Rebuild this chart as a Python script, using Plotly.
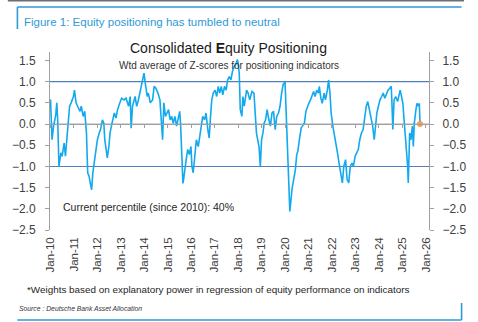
import plotly.graph_objects as go

dates = [
    "2010-01-01", "2010-01-25", "2010-02-18", "2010-03-24", "2010-04-09", "2010-04-24", "2010-05-12",
    "2010-06-12", "2010-07-01", "2010-08-01", "2010-08-21", "2010-10-01", "2010-10-25", "2010-11-18",
    "2010-12-24", "2011-01-09", "2011-02-03", "2011-02-27", "2011-04-06", "2011-04-25", "2011-05-25",
    "2011-06-18", "2011-07-15", "2011-08-03", "2011-08-24", "2011-09-22", "2011-10-03", "2011-10-22",
    "2011-11-27", "2012-01-01", "2012-02-01", "2012-02-19", "2012-03-19", "2012-04-10", "2012-04-25",
    "2012-05-19", "2012-06-03", "2012-06-28", "2012-07-16", "2012-08-16", "2012-09-21", "2012-10-16",
    "2012-11-10", "2012-12-13", "2013-01-13", "2013-02-18", "2013-03-22", "2013-05-01", "2013-05-25",
    "2013-06-10", "2013-07-01", "2013-08-10", "2013-09-04", "2013-09-28", "2013-10-22", "2013-11-18",
    "2013-12-12", "2013-12-27", "2014-01-15", "2014-02-15", "2014-03-04", "2014-04-04", "2014-05-10",
    "2014-06-03", "2014-06-28", "2014-08-01", "2014-09-01", "2014-09-22", "2014-10-12", "2014-11-01",
    "2014-11-25", "2014-12-20", "2015-01-13", "2015-02-08", "2015-03-03", "2015-03-27", "2015-04-22",
    "2015-05-18", "2015-06-10", "2015-07-06", "2015-07-21", "2015-08-16", "2015-08-25", "2015-09-04",
    "2015-09-24", "2015-10-15", "2015-11-07", "2015-12-03", "2015-12-28", "2016-01-12", "2016-02-01",
    "2016-02-26", "2016-03-21", "2016-04-20", "2016-05-25", "2016-06-28", "2016-07-28", "2016-08-18",
    "2016-09-16", "2016-10-07", "2016-10-28", "2016-11-16", "2016-12-10", "2017-01-06", "2017-02-01",
    "2017-02-25", "2017-03-20", "2017-04-13", "2017-05-07", "2017-06-03", "2017-06-27", "2017-07-21",
    "2017-08-16", "2017-09-10", "2017-10-04", "2017-11-01", "2017-11-25", "2017-12-18", "2017-12-28",
    "2018-01-18", "2018-02-03", "2018-02-28", "2018-03-16", "2018-04-06", "2018-05-12", "2018-06-04",
    "2018-07-01", "2018-08-04", "2018-09-04", "2018-09-25", "2018-10-13", "2018-11-01", "2018-11-22",
    "2018-12-12", "2019-01-01", "2019-01-22", "2019-02-10", "2019-03-04", "2019-03-28", "2019-04-24",
    "2019-05-18", "2019-06-12", "2019-07-06", "2019-08-01", "2019-08-25", "2019-09-21", "2019-10-15",
    "2019-11-09", "2019-12-03", "2020-01-01", "2020-01-20", "2020-02-10", "2020-03-01", "2020-03-16",
    "2020-04-21", "2020-05-21", "2020-06-10", "2020-07-01", "2020-07-19", "2020-08-15", "2020-09-09",
    "2020-09-28", "2020-10-28", "2020-11-21", "2020-12-16", "2021-01-06", "2021-02-01", "2021-02-25",
    "2021-03-21", "2021-04-13", "2021-05-08", "2021-06-03", "2021-06-18", "2021-07-12", "2021-08-02",
    "2021-09-01", "2021-09-21", "2021-10-21", "2021-11-10", "2021-12-01", "2021-12-19", "2022-01-15",
    "2022-02-07", "2022-03-03", "2022-03-28", "2022-04-21", "2022-05-15", "2022-06-12", "2022-07-04",
    "2022-08-01", "2022-08-25", "2022-09-19", "2022-10-13", "2022-11-08", "2022-12-01", "2022-12-27",
    "2023-01-21", "2023-02-15", "2023-03-10", "2023-04-05", "2023-05-01", "2023-05-25", "2023-06-19",
    "2023-07-13", "2023-08-07", "2023-09-02", "2023-09-27", "2023-10-21", "2023-11-05", "2023-12-01",
    "2023-12-25", "2024-01-19", "2024-02-15", "2024-03-09", "2024-04-03", "2024-04-28", "2024-05-22",
    "2024-06-16", "2024-07-12", "2024-07-21", "2024-08-06", "2024-08-25", "2024-09-19", "2024-10-19",
    "2024-11-09", "2024-11-28", "2024-12-19", "2025-01-09", "2025-01-28", "2025-02-16", "2025-03-07",
    "2025-03-25", "2025-04-03", "2025-04-10", "2025-04-25", "2025-05-15", "2025-06-06", "2025-06-21",
    "2025-07-06", "2025-08-01", "2025-08-16", "2025-09-06", "2025-09-22", "2025-10-03",
]

positioning = [
    0.58, -0.37, -0.05, 0.22, 0.50, 0.05, -1.00,
    -0.68, -0.76, -0.45, -0.76, 0.10, 0.42, 0.50,
    0.65, 0.80, 0.50, 0.42, 0.30, 0.42, 0.18,
    0.30, -0.21, -1.15, -1.23, -1.47, -1.55, -1.15,
    -0.76, -0.37, -0.20, -0.13, 0.10, 0.02, -0.37,
    -0.60, -0.80, -0.53, -0.21, 0.02, 0.26, 0.14,
    0.34, 0.49, 0.61, 0.57, 0.61, 0.42, 0.65,
    -0.10, 0.42, 0.65, 0.42, 0.55, 0.73, 0.89,
    1.12, 1.20, 0.97, 0.65, 0.73, 0.50, 0.57,
    0.89, 0.85, 0.73, 0.57, 0.18, -0.37, 0.50,
    0.18, 0.26, 0.34, 0.10, 0.18, 0.02, 0.18,
    -0.05, 0.10, 0.30, -0.05, -1.08, -1.40, -1.31,
    -1.00, -0.84, -0.60, -0.72, -0.53, -1.00, -1.15,
    -0.68, -0.37, -0.53, -0.21, 0.18, 0.10, 0.26,
    -0.13, -0.33, 0.18, 0.57, 0.73, 0.80, 0.65,
    0.89, 0.73, 0.89, 0.69, 0.89, 0.80, 1.04,
    1.12, 1.04, 1.24, 1.36, 1.40, 1.52, 1.48,
    1.20, 0.34, 0.18, 0.65, 0.42, 0.80, 0.73,
    0.57, 0.77, 0.73, 0.10, -0.21, -0.37, -0.53,
    -1.00, -0.37, -0.21, 0.02, 0.10, 0.34, 0.10,
    -0.05, 0.26, 0.30, -0.13, 0.18, 0.26, 0.42,
    0.73, 0.93, 1.00, 0.30, -0.41, -1.12, -2.06,
    -1.51, -1.27, -1.08, -0.72, -0.64, -0.33, -0.09,
    -0.05, 0.02, 0.30, 0.42, 0.49, 0.57, 0.65,
    0.77, 0.65, 0.80, 0.73, 0.89, 0.61, 0.49,
    0.73, 0.57, 0.80, 1.04, 0.73, 0.26, -0.05,
    -0.29, -0.53, -0.68, -0.92, -1.15, -1.39, -1.00,
    -0.84, -1.31, -1.39, -1.00, -0.92, -1.00, -0.76,
    -0.68, -0.60, -0.37, -0.21, -0.13, 0.18, 0.42,
    0.53, 0.34, 0.10, -0.05, -0.37, -0.13, 0.26,
    0.42, 0.57, 0.65, 0.73, 0.61, 0.73, 0.80,
    0.84, 0.89, 0.57, -0.13, 0.57, 0.65, 0.53,
    0.73, 0.80, 0.65, 0.49, 0.10, -0.29, -0.53,
    -1.00, -1.39, -0.60, -0.21, -0.37, -0.05, -0.53,
    0.02, 0.34, 0.49, 0.42, 0.49, 0.00,
]

latest_date = ["2025-10-03"]
latest_value = [0.00]

y_ticks = [1.5, 1.0, 0.5, 0.0, -0.5, -1.0, -1.5, -2.0, -2.5]
y_range = [-2.5, 1.7]
x_range = ["2009-12-24", "2026-02-20"]
ref_lines = [1.0, -1.0]
zero_line = [0.0]

FONT = "Liberation Sans, Arial, sans-serif"
BLUE = "#2E9AD6"
GREY = "#A0A0A0"

W, H = 478, 322
ML, MR, MT, MB = 44, 38.5, 52, 92
PW, PH = W - ML - MR, H - MT - MB

def px(x):
    return (x - ML) / PW

def py(y):
    return (H - MB - y) / PH

fig = go.Figure()
fig.add_trace(go.Scatter(x=dates, y=positioning, mode="lines",
                         line=dict(color="#13A9EE", width=1.6), showlegend=False,
                         hoverinfo="skip"))
fig.add_trace(go.Scatter(x=latest_date, y=latest_value, mode="markers", xaxis="x2", yaxis="y2",
                         marker=dict(color="#F5A04F", size=6), showlegend=False))

for v in ref_lines:
    fig.add_shape(type="line", xref="paper", yref="y", x0=0, x1=1, y0=v, y1=v,
                  line=dict(color="#4F7FBF", width=1.1), layer="below")
for v in zero_line:
    fig.add_shape(type="line", xref="paper", yref="y", x0=0, x1=1, y0=v, y1=v,
                  line=dict(color=GREY, width=1), layer="below")

zero_pos = (0 - y_range[0]) / (y_range[1] - y_range[0])

fig.update_layout(
    width=W, height=H,
    margin=dict(l=ML, r=MR, t=MT, b=MB),
    paper_bgcolor="white", plot_bgcolor="white",
    font=dict(family=FONT, color="#404040"),
    xaxis=dict(range=x_range, type="date", tick0="2010-01-01", dtick="M12",
               tickformat="%b-%y", tickangle=-90, showgrid=False, zeroline=False,
               showline=False, ticks="", tickfont=dict(size=11.5, color="#404040"),
               ticklabelstandoff=4),
    xaxis2=dict(overlaying="x", matches="x", anchor="free", position=zero_pos,
                type="date", tick0="2010-01-01", dtick="M12", showticklabels=False,
                showline=True, linecolor=GREY, linewidth=1, ticks="outside",
                ticklen=3, tickcolor=GREY, showgrid=False, zeroline=False),
    yaxis=dict(range=y_range, tickvals=y_ticks, tickformat=".1f", showgrid=False,
               zeroline=False, showline=True, linecolor=GREY, linewidth=1,
               ticks="outside", ticklen=4, tickcolor=GREY,
               tickfont=dict(size=12, color="#404040"), ticklabelstandoff=7),
    yaxis2=dict(overlaying="y", matches="y", side="right", range=y_range,
                tickvals=y_ticks, tickformat=".1f", showgrid=False, zeroline=False,
                showline=True, linecolor=GREY, linewidth=1, ticks="outside",
                ticklen=4, tickcolor=GREY, tickfont=dict(size=12, color="#404040"),
                ticklabelstandoff=6),
)

# frame decorations (pixel positions converted to paper coordinates)
def hline(x0, x1, y, color, width):
    fig.add_shape(type="line", xref="paper", yref="paper", x0=px(x0), x1=px(x1),
                  y0=py(y), y1=py(y), line=dict(color=color, width=width))

def vline(x, y0, y1, color, width):
    fig.add_shape(type="line", xref="paper", yref="paper", x0=px(x), x1=px(x),
                  y0=py(y0), y1=py(y1), line=dict(color=color, width=width))

hline(0, 476, 0.8, "#6E6E6E", 1.6)
hline(10, 473.5, 7, BLUE, 1.6)
vline(10, 7, 29, BLUE, 1.6)
hline(10, 473.5, 320, BLUE, 1.6)
vline(473.5, 303, 320, BLUE, 1.6)

def txt(x, y, s, size, color="#262626", anchor="left"):
    fig.add_annotation(xref="paper", yref="paper", x=px(x), y=py(y), text=s,
                       showarrow=False, xanchor=anchor, yanchor="middle",
                       font=dict(size=size, color=color, family=FONT))

txt(15, 22, "Figure 1: Equity positioning has tumbled to neutral", 11.5, BLUE)
txt(230.5, 48, "Consolidated <b>E</b>quity Positioning", 14, "#1A1A1A", "center")
txt(230.5, 65, "Wtd average of Z-scores for positioning indicators", 10, "#333333", "center")
txt(55, 207, "Current percentile (since 2010): 40%", 10.5, "#262626")
txt(18, 289.5, "*Weights based on explanatory power in regression of equity performance on indicators", 9.9, "#262626")
txt(10, 308.5, "<i>Source : Deutsche Bank Asset Allocation</i>", 6.8, "#333333")

fig.write_html("out.html")
